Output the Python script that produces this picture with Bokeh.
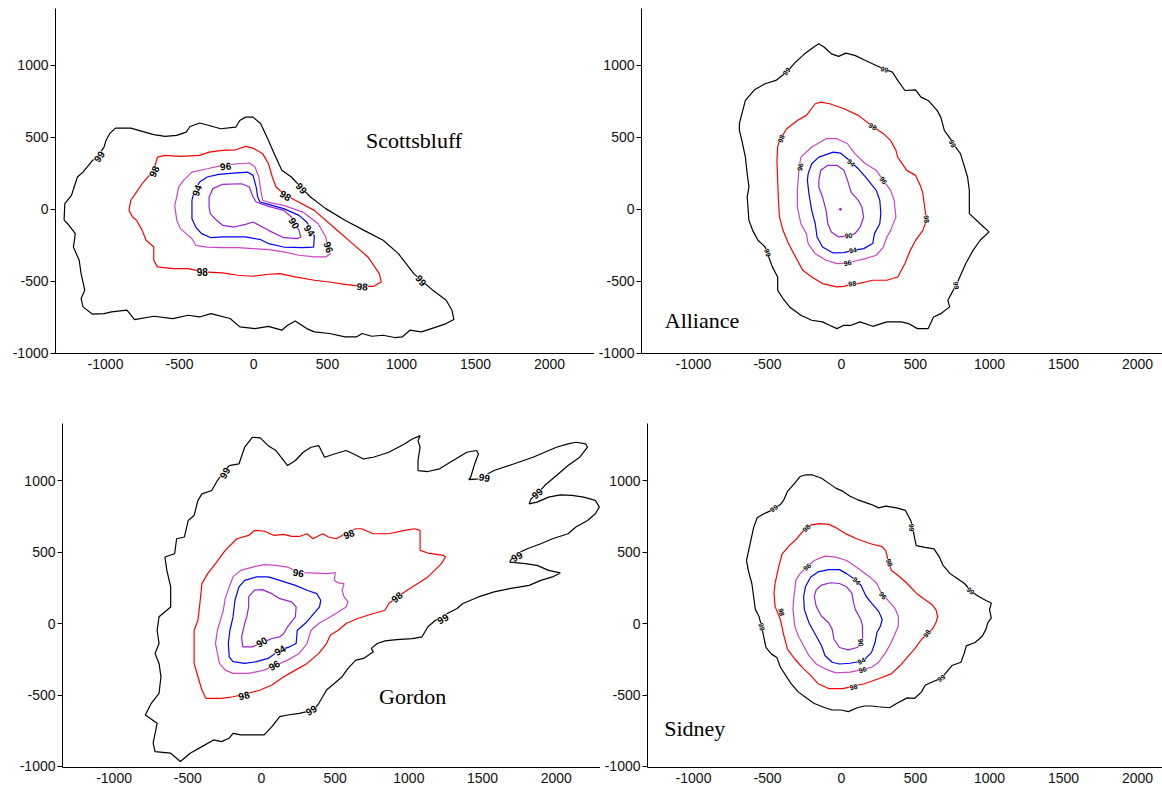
from bokeh.plotting import figure
from bokeh.layouts import column, row
from bokeh.models import Range1d, FixedTicker, Label
from bokeh.core.properties import value
from bokeh.embed import file_html
from bokeh.resources import INLINE

X_TICKS = [-1000, -500, 0, 500, 1000, 1500, 2000]
X_TICK_LABELS = ["-1000", "-500", "0", "500", "1000", "1500", "2000"]
Y_TICKS = [-1000, -500, 0, 500, 1000]
Y_TICK_LABELS = ["-1000", "-500", "0", "500", "1000"]
LEVELS = ["99", "98", "96", "94", "90"]
LEVEL_COLORS = ["#000000", "#ff0000", "#cc44c4", "#0000ff", "#9a20d0"]

# ---------------- Scottsbluff ----------------
SCOTTS_99_X = [-1280, -1275, -1230, -1212, -1190, -1152, -1088, -1049, -1010, -997, -972, -933, -829, -752, -674, -597, -519, -455, -429, -364, -300, -222, -119, -93, -54, -3, 49, 101, 140, 191, 256, 320, 385, 488, 618, 747, 876, 979, 1083, 1134, 1212, 1302, 1341, 1354, 1302, 1238, 1134, 1057, 1005, 953, 876, 798, 734, 695, 618, 514, 411, 359, 282, 230, 191, 101, 10, -93, -158, -287, -364, -442, -545, -674, -804, -855, -959, -1010, -1088, -1152, -1165, -1140, -1165, -1178, -1217, -1204, -1256]
SCOTTS_99_Y = [-75, 40, 97, 155, 225, 259, 340, 375, 433, 479, 526, 565, 565, 542, 519, 507, 514, 537, 576, 600, 583, 560, 572, 618, 641, 641, 595, 479, 387, 271, 225, 155, 86, 5, -76, -146, -215, -308, -447, -493, -563, -632, -701, -766, -794, -817, -852, -840, -887, -891, -875, -882, -863, -887, -887, -863, -852, -829, -776, -806, -840, -813, -829, -817, -759, -725, -748, -736, -759, -743, -766, -701, -713, -725, -729, -678, -620, -563, -447, -354, -262, -169, -100]
SCOTTS_98_X = [-842, -829, -791, -752, -713, -674, -649, -597, -494, -364, -300, -209, -119, -54, -3, 62, 101, 127, 152, 204, 282, 411, 540, 669, 773, 850, 863, 811, 734, 618, 514, 411, 282, 178, 101, -3, -106, -209, -339, -442, -545, -649, -674, -674, -726, -752, -791, -817]
SCOTTS_98_Y = [-7, 63, 120, 178, 225, 271, 363, 375, 368, 375, 398, 410, 414, 438, 426, 387, 317, 225, 155, 109, 63, -7, -123, -238, -331, -447, -505, -535, -535, -521, -505, -493, -470, -447, -451, -465, -458, -442, -435, -412, -412, -400, -354, -262, -215, -146, -76, -53]
SCOTTS_96_X = [-532, -519, -506, -473, -416, -313, -209, -106, -28, 10, 36, 49, 62, 101, 204, 333, 437, 488, 501, 519, 488, 411, 307, 204, 101, -3, -106, -209, -313, -390, -416, -455, -494, -519, -525]
SCOTTS_96_Y = [28, 86, 155, 201, 259, 282, 306, 317, 322, 294, 225, 132, 63, 49, 28, -19, -100, -192, -262, -308, -331, -331, -319, -296, -280, -273, -266, -266, -262, -250, -204, -169, -134, -76, -30]
SCOTTS_94_X = [-416, -416, -403, -364, -313, -235, -132, -41, -3, 18, 28, 44, 101, 204, 307, 359, 398, 411, 406, 333, 204, 101, 49, -54, -209, -287, -351, -390, -416]
SCOTTS_94_Y = [16, 63, 120, 190, 225, 243, 252, 259, 236, 155, 86, 51, 35, 5, -42, -88, -146, -192, -262, -266, -262, -238, -211, -192, -192, -197, -169, -123, -65]
SCOTTS_90_X = [-300, -300, -274, -209, -80, -28, -3, 18, 101, 204, 256, 307, 320, 295, 204, 101, -3, -54, -132, -209, -261, -292]
SCOTTS_90_Y = [16, 86, 144, 174, 178, 155, 86, 51, 21, -7, -53, -146, -192, -204, -197, -146, -88, -104, -123, -111, -65, -30]
SCOTTS_LABEL_X = [-1044, 326, 1134, -674, 217, -346, 734, -189, 509, -385, 380, 276]
SCOTTS_LABEL_Y = [368, 148, -493, 264, 97, -435, -535, 301, -262, 132, -146, -95]
SCOTTS_LABEL_T = ["99", "99", "99", "98", "98", "98", "98", "96", "96", "94", "94", "90"]
SCOTTS_LABEL_A = [55, -48, -48, 65, -32, 0, -3, 5, -70, 70, -55, -60]

# ---------------- Alliance ----------------
ALLI_99_X = [-690, -661, -649, -588, -516, -443, -370, -310, -249, -189, -153, -116, -68, -19, 29, 90, 162, 235, 295, 344, 380, 429, 501, 537, 586, 646, 671, 695, 743, 755, 804, 852, 864, 864, 937, 997, 937, 889, 840, 780, 743, 719, 731, 671, 622, 586, 513, 453, 404, 307, 211, 126, 65, 17, -31, -80, -128, -201, -274, -346, -395, -431, -431, -467, -491, -516, -564, -600, -625, -637, -625, -637, -649, -673, -690]
ALLI_99_Y = [595, 711, 757, 831, 873, 896, 954, 1023, 1081, 1127, 1151, 1127, 1081, 1063, 1086, 1070, 1035, 1000, 972, 954, 896, 826, 831, 780, 757, 688, 641, 549, 479, 456, 387, 225, 132, -30, -100, -157, -215, -285, -377, -516, -586, -632, -678, -725, -748, -829, -829, -794, -782, -782, -813, -782, -806, -806, -829, -806, -782, -771, -736, -683, -620, -563, -470, -400, -331, -262, -215, -146, -76, 86, 155, 248, 363, 479, 549]
ALLI_98_X = [-431, -419, -370, -298, -237, -177, -140, -80, 17, 114, 211, 283, 332, 368, 380, 441, 501, 537, 550, 562, 574, 550, 501, 465, 429, 380, 307, 211, 114, 65, 17, -31, -128, -201, -261, -310, -358, -395, -419, -426, -431, -436]
ALLI_98_Y = [433, 479, 560, 618, 653, 734, 745, 734, 699, 653, 576, 526, 479, 410, 363, 271, 236, 155, 109, 16, -76, -146, -215, -285, -377, -470, -493, -493, -516, -521, -535, -539, -516, -470, -424, -331, -238, -146, -53, 63, 201, 340]
ALLI_96_X = [-286, -274, -201, -104, -31, 41, 90, 162, 235, 283, 332, 356, 368, 332, 307, 283, 235, 162, 65, 41, -31, -104, -177, -225, -237, -274, -298, -298, -291]
ALLI_96_Y = [294, 363, 433, 491, 491, 456, 387, 317, 271, 201, 132, 63, -53, -146, -192, -262, -319, -343, -366, -373, -377, -354, -308, -238, -169, -100, 16, 132, 225]
ALLI_94_X = [-225, -201, -153, -56, -7, 41, 65, 114, 162, 235, 259, 266, 259, 223, 211, 150, 77, 17, -56, -128, -165, -177, -201, -220, -230]
ALLI_94_Y = [248, 317, 363, 398, 391, 352, 329, 282, 225, 132, 63, -30, -100, -169, -238, -273, -285, -301, -303, -262, -192, -100, -7, 109, 201]
ALLI_90_X = [-153, -140, -92, -31, 17, 41, 65, 114, 138, 150, 126, 90, 53, -19, -68, -92, -104, -128, -153]
ALLI_90_Y = [201, 271, 306, 306, 271, 201, 120, 63, 16, -53, -123, -169, -185, -192, -157, -100, -7, 86, 155]
ALLI_DOT_X = [-7]
ALLI_DOT_Y = [0]
ALLI_LABEL_X = [-370, 290, 750, -499, 775, -407, 211, 574, 73, -278, 283, 41, 65, 77, 48]
ALLI_LABEL_Y = [958, 972, 456, -301, -528, 491, 576, -69, -516, 294, 201, -373, 324, -285, -183]
ALLI_LABEL_T = ["99", "99", "99", "99", "99", "98", "98", "98", "98", "96", "96", "96", "94", "94", "90"]
ALLI_LABEL_A = [50, -15, -65, -72, -80, 70, -30, -82, 5, 80, -55, 10, -40, 10, 5]

# ---------------- Gordon ----------------
GORD_99_X = [-550, -616, -722, -735, -708, -788, -748, -695, -682, -695, -722, -695, -708, -695, -616, -616, -642, -655, -589, -576, -523, -497, -457, -431, -404, -338, -299, -259, -219, -153, -114, -61, -8, 45, 98, 151, 177, 230, 283, 336, 389, 428, 494, 574, 626, 692, 759, 864, 970, 1023, 1062, 1076, 1062, 1076, 1062, 1062, 1129, 1208, 1300, 1393, 1459, 1472, 1446, 1419, 1406, 1472, 1578, 1710, 1842, 1921, 2001, 2080, 2133, 2199, 2212, 2159, 2080, 2001, 1921, 1882, 1829, 1816, 1869, 1948, 2027, 2106, 2186, 2265, 2292, 2265, 2212, 2133, 2080, 1974, 1895, 1803, 1710, 1684, 1789, 1869, 1948, 2027, 1974, 1895, 1816, 1684, 1578, 1472, 1366, 1327, 1261, 1181, 1129, 1089, 1023, 917, 838, 785, 745, 759, 692, 640, 587, 547, 494, 441, 415, 389, 362, 309, 256, 177, 124, 71, 18, -61, -140, -193, -219, -272, -325, -404, -484]
GORD_99_Y = [-965, -907, -896, -837, -698, -640, -558, -488, -372, -279, -209, -140, -47, 47, 116, 256, 372, 465, 488, 593, 605, 721, 756, 861, 907, 930, 1000, 1058, 1105, 1116, 1233, 1303, 1298, 1244, 1210, 1140, 1105, 1140, 1198, 1233, 1244, 1163, 1186, 1210, 1186, 1151, 1163, 1198, 1256, 1291, 1307, 1314, 1279, 1233, 1140, 1070, 1063, 1082, 1140, 1198, 1210, 1186, 1116, 1023, 1007, 1012, 1070, 1116, 1163, 1198, 1233, 1256, 1268, 1256, 1233, 1163, 1105, 1035, 965, 919, 872, 837, 849, 884, 900, 896, 884, 861, 814, 768, 721, 675, 628, 593, 558, 523, 477, 430, 419, 407, 372, 354, 326, 302, 267, 244, 221, 186, 140, 105, 70, 23, -23, -93, -105, -112, -121, -140, -174, -198, -244, -256, -314, -372, -419, -465, -512, -558, -593, -616, -628, -640, -651, -721, -779, -779, -779, -768, -802, -826, -814, -861, -907]
GORD_98_X = [-378, -404, -431, -457, -457, -431, -418, -404, -365, -312, -246, -167, -87, -48, 18, 85, 151, 204, 256, 309, 349, 415, 455, 507, 547, 640, 679, 759, 864, 970, 1036, 1076, 1076, 1129, 1234, 1248, 1221, 1129, 1023, 970, 864, 838, 759, 653, 574, 521, 468, 441, 389, 309, 230, 151, 71, -8, -87, -193, -272]
GORD_98_Y = [-523, -465, -372, -279, -47, 23, 140, 279, 349, 419, 512, 593, 616, 651, 647, 616, 623, 609, 609, 628, 593, 628, 605, 593, 616, 663, 663, 628, 628, 651, 663, 651, 512, 493, 477, 465, 419, 326, 256, 221, 140, 93, 70, 35, 0, -47, -81, -140, -209, -279, -326, -372, -430, -465, -488, -512, -523]
GORD_96_X = [507, 441, 336, 256, 177, 98, 18, -61, -140, -193, -219, -246, -259, -272, -299, -312, -285, -246, -193, -87, 18, 71, 177, 256, 309, 336, 389, 468, 521, 574, 587, 560, 547, 560, 521, 494, 500]
GORD_96_Y = [356, 349, 354, 356, 395, 407, 412, 395, 372, 326, 256, 174, 93, 47, -47, -140, -279, -326, -349, -349, -326, -302, -256, -209, -140, -47, 0, 47, 81, 116, 151, 186, 233, 279, 284, 302, 349]
GORD_94_X = [-193, -180, -153, -114, -34, 45, 124, 230, 309, 375, 402, 394, 336, 296, 243, 235, 190, 124, 45, -34, -114, -193, -219, -225, -214]
GORD_94_Y = [47, 163, 256, 302, 326, 326, 302, 267, 233, 209, 163, 116, 47, 0, -47, -140, -163, -186, -244, -267, -279, -267, -233, -140, -47]
GORD_90_X = [-87, -87, -48, 5, 71, 124, 204, 235, 230, 177, 151, 124, 71, 18, -61, -127, -135, -114, -100]
GORD_90_Y = [116, 186, 233, 237, 209, 174, 151, 116, 47, -23, -70, -93, -105, -128, -163, -163, -93, 0, 47]
GORD_LABEL_X = [-251, 1512, 1869, 1731, 1229, 336, 592, 917, -119, 251, 85, 124, 0]
GORD_LABEL_Y = [1054, 1023, 912, 470, 35, -605, 628, 186, -502, 356, -291, -186, -128]
GORD_LABEL_T = ["99", "99", "99", "99", "99", "99", "98", "98", "98", "96", "96", "94", "90"]
GORD_LABEL_A = [60, -10, 40, 30, 30, 30, 20, 40, 15, -10, 30, 30, 30]

# ---------------- Sidney ----------------
SID_99_X = [-642, -618, -594, -570, -534, -485, -456, -413, -389, -365, -316, -280, -244, -196, -135, -87, -39, 10, 58, 106, 203, 251, 299, 372, 432, 469, 481, 493, 505, 565, 625, 662, 686, 734, 782, 831, 879, 927, 976, 1012, 1000, 1012, 988, 976, 952, 903, 843, 831, 807, 746, 710, 674, 613, 565, 541, 493, 444, 372, 324, 251, 203, 155, 106, 46, -2, -63, -111, -184, -232, -292, -341, -377, -413, -437, -473, -510, -522, -539, -558, -582, -594, -606, -630]
SID_99_Y = [441, 556, 671, 740, 763, 786, 805, 832, 867, 924, 982, 1028, 1039, 1039, 1016, 982, 947, 924, 890, 867, 832, 809, 821, 809, 791, 717, 671, 602, 545, 533, 522, 464, 407, 349, 315, 280, 223, 189, 161, 143, 97, 39, 5, -41, -87, -133, -156, -202, -271, -294, -340, -382, -409, -432, -478, -524, -520, -559, -589, -582, -577, -577, -589, -616, -605, -605, -589, -559, -524, -478, -421, -363, -306, -237, -214, -168, -110, -23, 51, 97, 189, 280, 372]
SID_98_X = [-449, -425, -401, -353, -304, -268, -237, -208, -147, -87, -39, 34, 106, 203, 275, 299, 312, 324, 336, 372, 444, 505, 565, 613, 638, 650, 638, 613, 577, 541, 493, 444, 396, 336, 251, 155, 82, 10, -87, -159, -208, -256, -316, -365, -389, -413, -449, -456]
SID_98_Y = [280, 395, 487, 545, 591, 637, 667, 690, 699, 694, 671, 625, 591, 556, 538, 510, 453, 423, 372, 345, 280, 212, 166, 131, 97, 51, 5, -41, -76, -110, -179, -237, -294, -352, -386, -421, -437, -455, -455, -421, -363, -317, -248, -179, -87, 28, 120, 212]
SID_96_X = [-316, -309, -280, -232, -184, -111, -39, 34, 82, 130, 191, 239, 275, 312, 360, 384, 384, 360, 336, 299, 251, 203, 142, 58, -39, -111, -171, -220, -256, -292, -316, -328, -324]
SID_96_Y = [235, 303, 349, 395, 441, 471, 464, 441, 407, 372, 326, 280, 200, 166, 108, 51, -18, -76, -133, -202, -271, -306, -322, -340, -345, -317, -283, -225, -156, -87, -18, 97, 166]
SID_94_X = [-256, -244, -208, -159, -87, -14, 34, 82, 130, 167, 203, 251, 275, 263, 239, 227, 203, 155, 130, 58, -14, -63, -111, -135, -171, -220, -251]
SID_94_Y = [189, 257, 326, 361, 377, 377, 349, 315, 269, 189, 143, 85, 28, -18, -64, -133, -202, -253, -264, -278, -283, -271, -225, -156, -87, 5, 97]
SID_90_X = [-184, -171, -135, -75, -14, 34, 70, 82, 94, 130, 142, 142, 138, 106, 46, -14, -51, -63, -87, -135, -171]
SID_90_Y = [189, 235, 269, 285, 280, 257, 212, 143, 97, 28, -18, -110, -133, -168, -184, -168, -110, -41, 5, 51, 120]
SID_LABEL_X = [-456, 473, 872, 674, -539, -237, 324, -406, 577, 82, -232, 280, 142, 101, 135, 130]
SID_LABEL_Y = [805, 671, 228, -382, -23, 667, 425, 80, -71, -444, 395, 195, -324, 297, -262, -133]
SID_LABEL_T = ["99", "99", "99", "99", "99", "98", "98", "98", "98", "98", "96", "96", "96", "94", "94", "90"]
SID_LABEL_A = [35, -85, -35, 35, -75, 45, -70, -80, 55, 10, 40, -50, 20, -45, 30, -85]

TITLES = ["Scottsbluff", "Alliance", "Gordon", "Sidney"]

FONT = "Liberation Sans"


def make_panel(width, height, bl, bt, bb, xr, yr):
    p = figure(width=width, height=height, x_range=Range1d(*xr), y_range=Range1d(*yr),
               output_backend="svg", toolbar_location=None,
               min_border_left=bl, min_border_right=0, min_border_top=bt, min_border_bottom=bb)
    p.outline_line_color = None
    p.grid.visible = False
    p.background_fill_color = "white"
    p.border_fill_color = "white"
    p.xaxis.ticker = FixedTicker(ticks=X_TICKS)
    p.yaxis.ticker = FixedTicker(ticks=Y_TICKS)
    p.xaxis.major_label_overrides = dict(zip(X_TICKS, X_TICK_LABELS))
    p.yaxis.major_label_overrides = dict(zip(Y_TICKS, Y_TICK_LABELS))
    for ax in (p.xaxis, p.yaxis):
        ax.axis_line_color = "#000000"
        ax.axis_line_width = 1
        ax.minor_tick_line_color = None
        ax.major_label_text_font = FONT
        ax.major_label_text_font_size = "14px"
        ax.major_label_text_color = "#111111"
        ax.major_tick_line_color = "#000000"
    p.xaxis.major_tick_out = 0
    p.xaxis.major_tick_in = 0
    p.xaxis.major_label_standoff = 5
    p.yaxis.major_tick_out = 5
    p.yaxis.major_tick_in = 0
    p.yaxis.major_label_standoff = 2
    return p


def add_lines(p, contours, closed_flags):
    for (xs, ys), color, closed in zip(contours, LEVEL_COLORS, closed_flags):
        if closed:
            p.line(list(xs) + [xs[0]], list(ys) + [ys[0]], line_color=color, line_width=1.2)
        else:
            p.line(xs, ys, line_color=color, line_width=1.2)


def add_labels(p, lx, ly, lt, la, fsize):
    p.text(x=lx, y=ly, text=lt, angle=la, angle_units="deg",
           text_font=value(FONT), text_font_style="bold", text_font_size=value(fsize),
           text_align="center", text_baseline="middle", text_color="#000000",
           background_fill_color="white")


def add_title(p, x, y, text):
    p.add_layout(Label(x=x, y=y, text=text, text_font="Liberation Serif", text_color="#000000",
                       text_font_size="22px", text_baseline="middle", text_align="left"))


ALL_CLOSED = [True, True, True, True, True]

# top row: left 0..594, right 594..1162 (frame from 641)
p1 = make_panel(594, 396, 55, 8, 43, (-1338, 2304), (-1002, 1396))
add_lines(p1, [(SCOTTS_99_X, SCOTTS_99_Y), (SCOTTS_98_X, SCOTTS_98_Y), (SCOTTS_96_X, SCOTTS_96_Y),
               (SCOTTS_94_X, SCOTTS_94_Y), (SCOTTS_90_X, SCOTTS_90_Y)], ALL_CLOSED)
add_labels(p1, SCOTTS_LABEL_X, SCOTTS_LABEL_Y, SCOTTS_LABEL_T, SCOTTS_LABEL_A, "10px")
add_title(p1, 760, 479, TITLES[0])

p2 = make_panel(568, 396, 47, 8, 43, (-1351, 2169), (-1002, 1396))
add_lines(p2, [(ALLI_99_X, ALLI_99_Y), (ALLI_98_X, ALLI_98_Y), (ALLI_96_X, ALLI_96_Y),
               (ALLI_94_X, ALLI_94_Y), (ALLI_90_X, ALLI_90_Y)], ALL_CLOSED)
p2.scatter(ALLI_DOT_X, ALLI_DOT_Y, size=2, color=LEVEL_COLORS[4])
add_labels(p2, ALLI_LABEL_X, ALLI_LABEL_Y, ALLI_LABEL_T, ALLI_LABEL_A, "7px")
add_title(p2, -1194, -771, TITLES[1])

# bottom row: left 0..600, right 600..1162 (frame from ~647)
p3 = make_panel(600, 391, 62, 27, 20, (-1350, 2300), (-1007, 1399))
add_lines(p3, [(GORD_99_X, GORD_99_Y), (GORD_98_X, GORD_98_Y), (GORD_96_X, GORD_96_Y),
               (GORD_94_X, GORD_94_Y), (GORD_90_X, GORD_90_Y)], [True, True, False, True, True])
add_labels(p3, GORD_LABEL_X, GORD_LABEL_Y, GORD_LABEL_T, GORD_LABEL_A, "10px")
add_title(p3, 798, -512, TITLES[2])

p4 = make_panel(562, 391, 47, 27, 20, (-1311, 2169), (-1007, 1399))
add_lines(p4, [(SID_99_X, SID_99_Y), (SID_98_X, SID_98_Y), (SID_96_X, SID_96_Y),
               (SID_94_X, SID_94_Y), (SID_90_X, SID_90_Y)], ALL_CLOSED)
add_labels(p4, SID_LABEL_X, SID_LABEL_Y, SID_LABEL_T, SID_LABEL_A, "7px")
add_title(p4, -1198, -731, TITLES[3])

layout = column(row(p1, p2), row(p3, p4))
open("out.html", "w").write(file_html(layout, INLINE))
